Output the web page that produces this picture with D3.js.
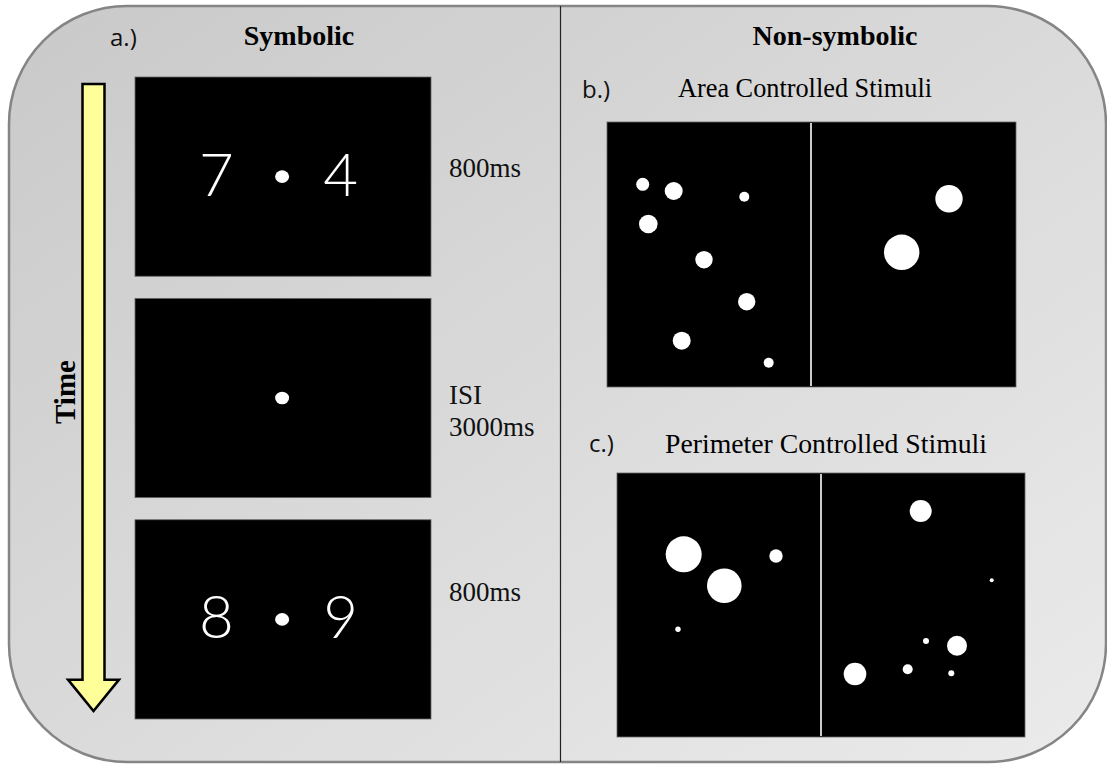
<!DOCTYPE html>
<html><head><meta charset="utf-8">
<script src="https://cdn.jsdelivr.net/npm/d3@7"></script>
<style>html,body{margin:0;padding:0;background:#fff;}svg{display:block;}</style>
</head><body>
<script>
// ---- data ----
const symbolicPanels = [
  {left: "7", right: "4", label: ["800ms"]},
  {left: "",  right: "",  label: ["ISI", "3000ms"]},
  {left: "8", right: "9", label: ["800ms"]}
];
const headings = ["Symbolic", "Non-symbolic"];
const subLabels = ["a.)", "b.)", "c.)"];
const stimTitles = ["Area Controlled Stimuli", "Perimeter Controlled Stimuli"];
// dot stimuli, in panel units (x, y from the panel's top-left corner, r radius)
const areaDots = [
  {x: 35.7, y: 62.3, r: 6.5}, {x: 66.7, y: 69, r: 9}, {x: 137.3, y: 74.7, r: 5},
  {x: 41.3, y: 102, r: 9.3}, {x: 97, y: 137.7, r: 8.7}, {x: 139.7, y: 179.7, r: 8.7},
  {x: 74.7, y: 218.7, r: 9}, {x: 161.7, y: 240.7, r: 5},
  {x: 342, y: 76.7, r: 13.7}, {x: 294.7, y: 130.3, r: 17.7}
];
const perimeterDots = [
  {x: 66.7, y: 81.3, r: 18}, {x: 107.3, y: 112.7, r: 17.3}, {x: 159, y: 83, r: 6.7},
  {x: 61, y: 156.3, r: 2.7},
  {x: 303.7, y: 38, r: 11}, {x: 374.7, y: 107.3, r: 2}, {x: 309, y: 168, r: 3},
  {x: 340, y: 172.7, r: 10}, {x: 238, y: 201, r: 11.3}, {x: 290.7, y: 196.3, r: 5},
  {x: 334.3, y: 200.3, r: 3}
];
const timeLabel = "Time";

// ---- drawing ----
const W = 1107, H = 764;
const svg = d3.select("body").append("svg").attr("width", W).attr("height", H);
const defs = svg.append("defs");
const grad = defs.append("linearGradient").attr("id", "bg")
  .attr("x1", "0%").attr("y1", "0%").attr("x2", "100%").attr("y2", "100%");
grad.append("stop").attr("offset", "0%").attr("stop-color", "#c9c9c9");
grad.append("stop").attr("offset", "100%").attr("stop-color", "#ebebeb");

svg.append("rect").attr("x", 9).attr("y", 6).attr("width", 1097).attr("height", 756)
  .attr("rx", 118).attr("ry", 118)
  .attr("fill", "url(#bg)").attr("stroke", "#858585").attr("stroke-width", 2.5);

svg.append("line").attr("x1", 560.5).attr("x2", 560.5).attr("y1", 6).attr("y2", 762)
  .attr("stroke", "#222").attr("stroke-width", 1.2);

const serif = "'Liberation Serif','Times New Roman',serif";
const sans = "'Open Sans','Liberation Sans',sans-serif";
const digitFont = "Lato,'Noto Sans',sans-serif";

// headings
svg.append("text").attr("x", 299).attr("y", 45).attr("text-anchor", "middle")
  .attr("font-family", serif).attr("font-weight", "bold").attr("font-size", 28).text(headings[0]);
svg.append("text").attr("x", 835).attr("y", 45).attr("text-anchor", "middle")
  .attr("font-family", serif).attr("font-weight", "bold").attr("font-size", 28).text(headings[1]);

// sub labels
const subPos = [[110, 46], [582, 98], [589, 452]];
subLabels.forEach((s, i) => svg.append("text").attr("x", subPos[i][0]).attr("y", subPos[i][1])
  .attr("font-family", sans).attr("font-size", 24).attr("fill", "#111").text(s));

// stim titles
svg.append("text").attr("x", 678).attr("y", 97).attr("font-family", serif).attr("font-size", 27)
  .attr("textLength", 254).attr("lengthAdjust", "spacingAndGlyphs").text(stimTitles[0]);
svg.append("text").attr("x", 665).attr("y", 453).attr("font-family", serif).attr("font-size", 27)
  .attr("textLength", 322).attr("lengthAdjust", "spacingAndGlyphs").text(stimTitles[1]);

// symbolic panels via band scale
const yPanels = d3.scaleBand().domain(d3.range(symbolicPanels.length)).range([77, 719]).paddingInner(0.1);
const px0 = 135, px1 = 431;
const sx = d3.scaleLinear().domain([0, 1]).range([px0, px1]);
const g = svg.selectAll("g.sym").data(symbolicPanels).join("g").attr("class", "sym")
  .attr("transform", (d, i) => `translate(0,${yPanels(i)})`);
const ph = yPanels.bandwidth();
const sy = d3.scaleLinear().domain([0, 1]).range([0, ph]);
g.append("rect").attr("x", px0).attr("y", 0).attr("width", px1 - px0).attr("height", ph)
  .attr("fill", "#000").attr("stroke", "#666").attr("stroke-width", 0.8);
g.append("ellipse").attr("cx", sx(0.497)).attr("cy", sy(0.5))
  .attr("rx", 7).attr("ry", 6.3).attr("fill", "#fff");
g.append("text").attr("x", sx(0.275)).attr("y", sy(0.595)).attr("text-anchor", "middle")
  .attr("font-family", digitFont).attr("font-weight", 300).attr("font-size", 60).attr("fill", "#fff")
  .text(d => d.left);
g.append("text").attr("x", sx(0.695)).attr("y", sy(0.595)).attr("text-anchor", "middle")
  .attr("font-family", digitFont).attr("font-weight", 300).attr("font-size", 60).attr("fill", "#fff")
  .text(d => d.right);
g.each(function (d, i) {
  const t = d3.select(this).append("text").attr("font-family", serif).attr("font-size", 27).attr("fill", "#111");
  const base = i === 1 ? 0.53 : (i === 0 ? 0.5 : 0.41);
  d.label.forEach((l, k) => t.append("tspan").attr("x", 449).attr("y", sy(base) + k * 32).text(l));
});

// arrow
const ay = d3.scaleLinear().domain([0, 1]).range([84, 711]);
const arrow = d3.path();
const cx = 93.5, hw = 11, headW = 25.5, headTop = ay(0.95);
arrow.moveTo(cx - hw, ay(0)); arrow.lineTo(cx + hw, ay(0)); arrow.lineTo(cx + hw, headTop);
arrow.lineTo(cx + headW, headTop); arrow.lineTo(cx, ay(1)); arrow.lineTo(cx - headW, headTop);
arrow.lineTo(cx - hw, headTop); arrow.closePath();
svg.append("path").attr("d", arrow.toString()).attr("fill", "#ffff99").attr("stroke", "#000")
  .attr("stroke-width", 2.5).attr("stroke-linejoin", "miter");
svg.append("text").attr("transform", "translate(75,392) rotate(-90)").attr("text-anchor", "middle")
  .attr("font-family", serif).attr("font-weight", "bold").attr("font-size", 29).text(timeLabel);

// dot panels
function dotPanel(dots, x0, y0, w, h, divider) {
  const xs = d3.scaleLinear().domain([0, w]).range([x0, x0 + w]);
  const ys = d3.scaleLinear().domain([0, h]).range([y0, y0 + h]);
  svg.append("rect").attr("x", x0).attr("y", y0).attr("width", w).attr("height", h)
    .attr("fill", "#000").attr("stroke", "#666").attr("stroke-width", 0.8);
  svg.append("line").attr("x1", xs(divider)).attr("x2", xs(divider)).attr("y1", ys(0) + 1).attr("y2", ys(h) - 1)
    .attr("stroke", "#fff").attr("stroke-width", 1.6);
  svg.append("g").selectAll("circle").data(dots).join("circle")
    .attr("cx", d => xs(d.x)).attr("cy", d => ys(d.y)).attr("r", d => d.r).attr("fill", "#fff");
}
dotPanel(areaDots, 607, 122, 409, 265, 204);
dotPanel(perimeterDots, 617, 473, 408, 264, 204);
</script>
</body></html>
